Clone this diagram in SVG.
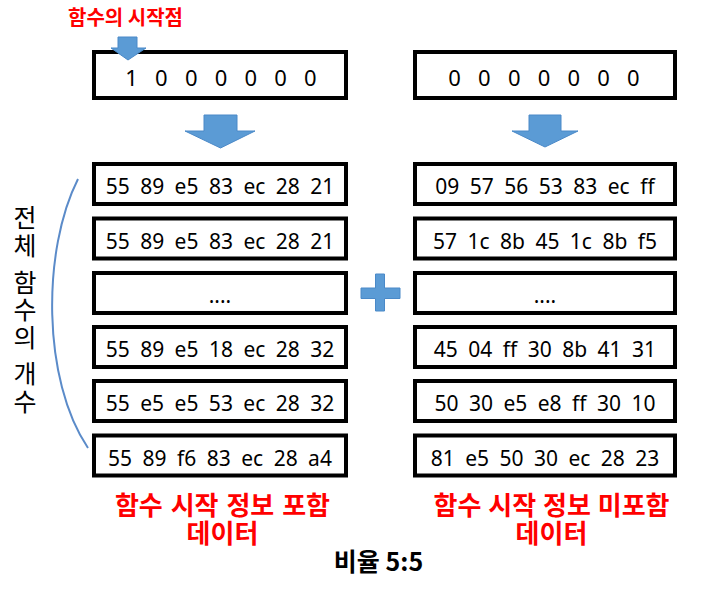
<svg xmlns="http://www.w3.org/2000/svg" width="710" height="590" viewBox="0 0 710 590">
<style>
.box{fill:#fff;stroke:#000;stroke-width:4}
.hex{font-family:"Noto Sans","Open Sans",sans-serif;font-size:21px;fill:#000;text-anchor:middle;word-spacing:5px}
.bits{font-family:"Noto Sans","Open Sans",sans-serif;font-size:22px;fill:#000;text-anchor:middle;word-spacing:11.5px}
.ko{font-family:"Noto Sans CJK KR",sans-serif}
.red{fill:#FF0000;font-weight:bold}
.blk{fill:#5B9BD5;stroke:#4A89C8;stroke-width:1}
</style>
<rect width="710" height="590" fill="#fff"/>

<g id="start-label"><text class="ko red" x="68" y="25" font-size="20">함수의 시작점</text></g>

<g id="bits-left"><rect class="box" x="94" y="52" width="252" height="46"/><text class="bits" x="221" y="86">1 0 0 0 0 0 0</text></g>
<g id="bits-right"><rect class="box" x="415" y="52" width="260" height="46"/><text class="bits" x="544" y="86">0 0 0 0 0 0 0</text></g>

<g id="left-rows">
<g id="L1"><rect class="box" x="94" y="164" width="252" height="40"/><text class="hex" x="220" y="194">55 89 e5 83 ec 28 21</text></g>
<g id="L2"><rect class="box" x="94" y="218.5" width="252" height="40"/><text class="hex" x="220" y="248.5">55 89 e5 83 ec 28 21</text></g>
<g id="L3"><rect class="box" x="94" y="273" width="252" height="40"/><text class="hex" x="220" y="303">....</text></g>
<g id="L4"><rect class="box" x="94" y="327" width="252" height="40"/><text class="hex" x="220" y="357">55 89 e5 18 ec 28 32</text></g>
<g id="L5"><rect class="box" x="94" y="381" width="252" height="40"/><text class="hex" x="220" y="411">55 e5 e5 53 ec 28 32</text></g>
<g id="L6"><rect class="box" x="94" y="435.5" width="252" height="40"/><text class="hex" x="220" y="465.5">55 89 f6 83 ec 28 a4</text></g>
</g>

<g id="right-rows">
<g id="R1"><rect class="box" x="415" y="164" width="260" height="40"/><text class="hex" x="545" y="194">09 57 56 53 83 ec ff</text></g>
<g id="R2"><rect class="box" x="415" y="218.5" width="260" height="40"/><text class="hex" x="545" y="248.5">57 1c 8b 45 1c 8b f5</text></g>
<g id="R3"><rect class="box" x="415" y="273" width="260" height="40"/><text class="hex" x="545" y="303">....</text></g>
<g id="R4"><rect class="box" x="415" y="327" width="260" height="40"/><text class="hex" x="545" y="357">45 04 ff 30 8b 41 31</text></g>
<g id="R5"><rect class="box" x="415" y="381" width="260" height="40"/><text class="hex" x="545" y="411">50 30 e5 e8 ff 30 10</text></g>
<g id="R6"><rect class="box" x="415" y="435.5" width="260" height="40"/><text class="hex" x="545" y="465.5">81 e5 50 30 ec 28 23</text></g>
</g>

<g id="count-label">
<path d="M78 179 C42 250 42 380 88 448" fill="none" stroke="#5B8BC9" stroke-width="2"/>
<text class="ko" font-size="25" fill="#000" writing-mode="vertical-rl" letter-spacing="2.5"><tspan x="25" y="205">전체 </tspan><tspan x="25" y="270">함수의 </tspan><tspan x="25" y="361">개수</tspan></text>
</g>

<g id="plus"><path class="blk" d="M375.5 274 H384.5 V288 H400 V298.5 H384.5 V311 H375.5 V298.5 H361 V288 H375.5 Z"/></g>

<g id="connectors">
<path class="blk" d="M118 37 H137 V48 H146 L128 60 L111 48 H118 Z"/>
<path class="blk" d="M204 115 H237 V131 H255 L220.5 148 L185 131 H204 Z"/>
<path class="blk" d="M529 115 H561 V131 H578 L545 147 L512 131 H529 Z"/>
</g>

<g id="label-left"><text class="ko red" font-size="26" text-anchor="middle" word-spacing="2"><tspan x="222.5" y="515">함수 시작 정보 포함</tspan><tspan x="222.5" y="543">데이터</tspan></text></g>
<g id="label-right"><text class="ko red" font-size="26" text-anchor="middle" word-spacing="1"><tspan x="551.5" y="515">함수 시작 정보 미포함</tspan><tspan x="551.5" y="543">데이터</tspan></text></g>
<g id="ratio"><text class="ko" font-size="25" font-weight="bold" fill="#000" text-anchor="middle" x="378.5" y="571">비율 5:5</text></g>
</svg>
